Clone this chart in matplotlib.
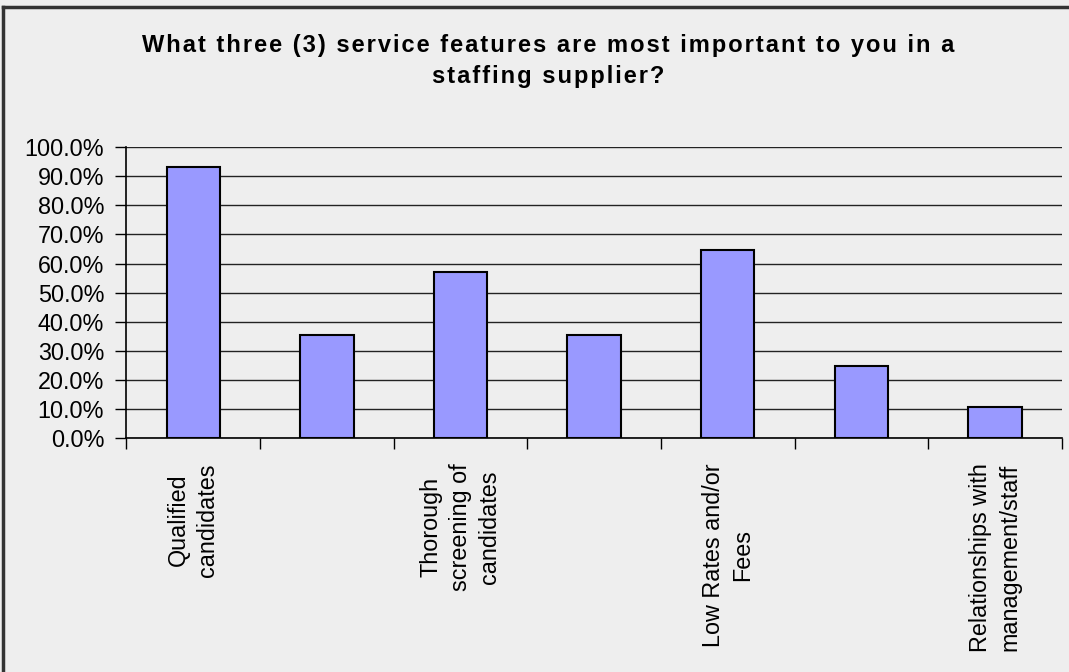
import matplotlib
matplotlib.use("Agg")
import matplotlib.pyplot as plt
from matplotlib.lines import Line2D
from matplotlib.ticker import FuncFormatter

# survey results, fraction of respondents choosing each feature
features = ["Qualified\ncandidates", "", "Thorough\nscreening of\ncandidates", "",
            "Low Rates and/or\nFees", "", "Relationships with\nmanagement/staff"]
shares = [0.930, 0.355, 0.570, 0.355, 0.645, 0.247, 0.108]
yticks = [0.0, 0.1, 0.2, 0.3, 0.4, 0.5, 0.6, 0.7, 0.8, 0.9, 1.0]
title_lines = ["What three (3) service features are most important to you in a",
               "staffing supplier?"]

bg = "#eeeeee"
plt.rcParams["font.family"] = ["Liberation Sans", "DejaVu Sans"]

fig = plt.figure(figsize=(10.69, 6.72), dpi=100, facecolor=bg)
ax = fig.add_axes([0.1183, 0.3478, 0.8749, 0.4334], facecolor=bg)

# chart border, only the top and left edges are on the canvas
fig.lines.append(Line2D([3 / 1069, 3 / 1069], [0, 1 - 7 / 672], transform=fig.transFigure,
                        color="#333333", linewidth=2.5))
fig.lines.append(Line2D([3 / 1069, 1], [1 - 7 / 672, 1 - 7 / 672], transform=fig.transFigure,
                        color="#333333", linewidth=2.5))

x = list(range(len(shares)))
ax.bar(x, shares, width=0.4, color="#9999ff", edgecolor="black", linewidth=1.5, zorder=3)

ax.set_xlim(-0.5, len(shares) - 0.5)
ax.set_ylim(0, 1)
ax.set_yticks(yticks)
ax.yaxis.set_major_formatter(FuncFormatter(lambda v, p: "{:.1%}".format(v)))
ax.grid(axis="y", color="#222222", linewidth=1.0, zorder=1)

# category boundaries carry the ticks, labels sit under the bars
ax.set_xticks([i - 0.5 for i in range(len(shares) + 1)])
ax.set_xticklabels([])
ax.tick_params(axis="x", direction="out", length=8, width=1, color="black")
ax.tick_params(axis="y", direction="out", length=8, width=1, color="black",
               labelsize=16.8, pad=8)
for i, name in enumerate(features):
    if name:
        ax.text(i, -0.085, name, rotation=90, ha="center", va="top",
                multialignment="center", fontsize=16.8, linespacing=1.35,
                transform=ax.get_xaxis_transform())

for side in ["top", "right"]:
    ax.spines[side].set_visible(False)
ax.spines["left"].set_linewidth(1.2)
ax.spines["bottom"].set_linewidth(1.2)

# title is set with a little extra letter spacing (hair spaces)
title = "\n".join("\u200a".join(line) for line in title_lines)
fig.text(0.513, 1 - 61 / 672, title, ha="center", va="center", fontsize=17,
         fontweight="bold", linespacing=1.45)

plt.savefig("out.png", dpi=100, facecolor=bg)
